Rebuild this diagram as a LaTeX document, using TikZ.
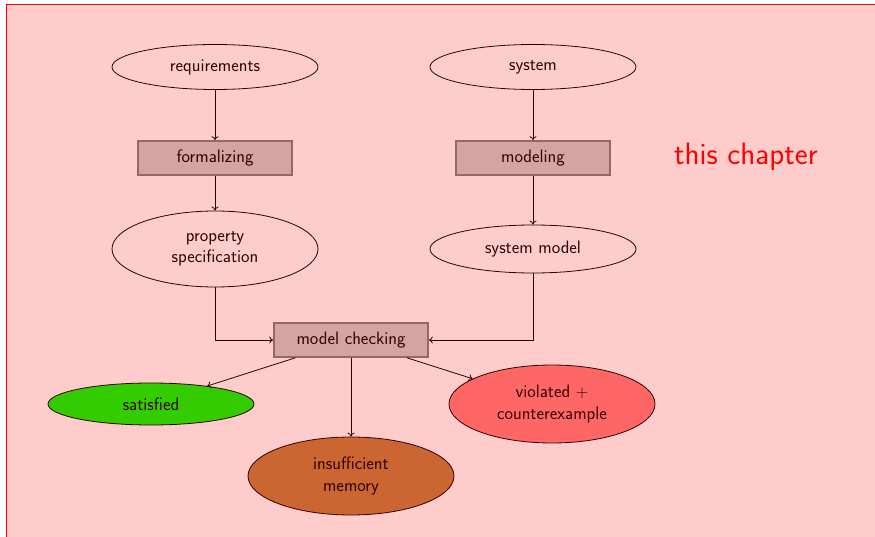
\documentclass[tikz,border=0pt]{standalone}
\usetikzlibrary{shapes.geometric,arrows.meta}
\begin{document}
\begin{tikzpicture}[x=1pt,y=-1pt,
  every node/.style={font=\sffamily\fontsize{18}{21.5}\selectfont, align=center, inner sep=0pt},
  ell/.style={ellipse, draw=black, line width=0.8pt, minimum width=206pt},
  procbox/.style={rectangle, draw=black!50, fill=black!20, line width=1.6pt, minimum width=154pt, minimum height=34pt},
  conn/.style={draw=black, line width=0.8pt, -{To[length=4pt,width=7pt]}}
]
\useasboundingbox (0,0) rectangle (875,537);
\fill[white] (0,0) rectangle (875,537);
\node[ell, minimum height=45pt] (req) at (215,67) {requirements};
\node[ell, minimum height=45pt] (sys) at (533,67) {system};
\node[procbox] (form) at (215,158) {formalizing};
\node[procbox] (mod) at (533,158) {modeling};
\node[ell, minimum height=76pt] (prop) at (215,249) {property\\specification};
\node[ell, minimum height=48pt] (sysm) at (533,249) {system model};
\node[procbox] (mc) at (351,340) {model checking};
\node[ell, minimum height=42pt, fill=green] (sat) at (151,404) {satisfied};
\node[ell, minimum height=78pt, fill=red!50] (vio) at (552,404) {violated $+$\\counterexample};
\node[ell, minimum height=78pt, fill={rgb,255:red,191;green,128;blue,64}] (mem) at (351,476) {insufficient\\memory};
\draw[conn] (req) -- (form);
\draw[conn] (form) -- (prop);
\draw[conn] (sys) -- (mod);
\draw[conn] (mod) -- (sysm);
\draw[conn] (prop.south) |- (mc.west);
\draw[conn] (sysm.south) |- (mc.east);
\draw[conn] (mc) -- (sat);
\draw[conn] (mc) -- (mem);
\draw[conn] (mc) -- (vio);
\fill[red, opacity=0.2] (6,5) rectangle (880,545);
\draw[red, line width=1pt] (880,5) -- (6,5) -- (6,545);
\node[text=red, font=\sffamily\fontsize{31}{36}\selectfont] (chap) at (746,157) {this chapter};
\end{tikzpicture}
\end{document}
